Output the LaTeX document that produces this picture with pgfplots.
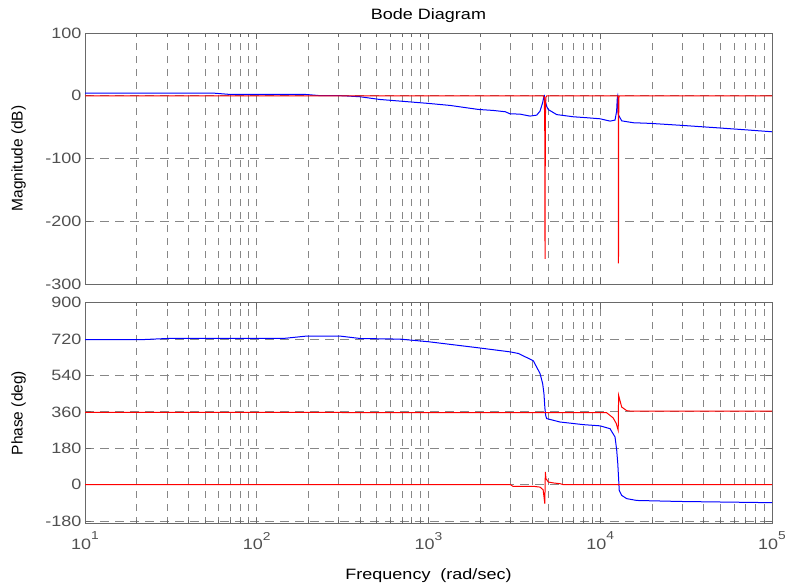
\documentclass[border=0pt]{standalone}
\usepackage{fontspec}
\setmainfont{Liberation Sans}
\newfontfamily\widefont{Liberation Sans}[FakeStretch=1.2]
\usepackage{pgfplots}
\usepackage{pgfplotstable}
\pgfplotsset{compat=1.18}
\definecolor{tickgray}{RGB}{80,80,80}
\definecolor{axgray}{RGB}{105,105,105}
\definecolor{gridgray}{RGB}{135,135,135}
\definecolor{mblue}{RGB}{0,0,255}
\definecolor{mred}{RGB}{255,0,0}
\newcommand\tenpow[1]{10\raisebox{9.5pt}{\fontsize{11.5}{12}\selectfont #1}}

\pgfplotstableread{
f v
10 4.3
50 4.3
56 4.2
70 2.1
150 2.1
195 2.0
233 0.2
318 0
400 -1.6
520 -5.9
682 -8.5
1000 -12.2
1334 -15.4
1950 -21.8
2380 -23.4
2800 -25.5
2980 -28.7
3410 -29.3
3900 -32.4
4265 -30.9
4460 -24.5
4620 -11
4700 -1
4730 0
4786 -8.5
4880 -17
4984 -22
5575 -30
6970 -33.5
8340 -35
9980 -36.7
11400 -40.4
12190 -38.8
12450 -25
12570 -3
12620 -1
12740 -30
13330 -40
15570 -43
19500 -44
29100 -47
47600 -51
74500 -54.8
100000 -57.4
}\magblue

\pgfplotstableread{
f v
10 0
4650 0
4720 -3
4750 -40
4770 -260
4790 -40
4820 -3
4880 0
12600 0
12700 -3
12740 -40
12770 -267
12800 -40
12840 -3
12920 0
100000 0
}\magred

\pgfplotstableread{
f v
10 717
21 717
30 723
142 723
195 735
305 735
400 723
682 720
1000 707
1950 677
2980 657
3335 649
4075 613
4460 550
4620 500
4700 451
4760 380
4810 343
4875 327
5830 310
7970 297
9980 291
11400 277
12190 236
12470 170
12650 104
12900 -28
13330 -53
14260 -69
16300 -78
29100 -83
100000 -89
}\phblue

\pgfplotstableread{
f v
10 0
3000 0
3100 -8
4075 -8
4460 -12
4650 -25
4755 -94
4790 63
4830 30
4984 13
5400 8
5830 5
6100 0
100000 0
}\phredA

\pgfplotstableread{
f v
10 358
10890 356
11900 330
12400 302
12720 269
12790 442
13330 384
14260 366
15000 364
100000 364
}\phredB

\pgfplotsset{bode/.style={
  scale only axis, width=687pt,
  xmin=10, xmax=100000,
  xtick={10,100,1000,10000,100000},
  axis line style={axgray, line width=0.9pt},
  tick align=inside, major tick length=6pt, minor tick length=3.5pt,
  tick style={axgray, line width=0.8pt},
  xmajorgrids, xminorgrids, ymajorgrids,
  major x grid style={gridgray, line width=0.8pt, dash pattern=on 7pt off 6pt},
  minor x grid style={gridgray, line width=0.8pt, dash pattern=on 7pt off 6pt},
  major y grid style={gridgray, line width=0.8pt, dash pattern=on 9pt off 6pt},
  /pgf/number format/assume math mode=true,
  ticklabel style={font=\widefont\fontsize{15}{18}\selectfont, text=tickgray},
  ylabel style={at={(axis description cs:-0.0968,0.5)}, anchor=center, font=\fontsize{15.5}{18}\selectfont},
  every axis plot/.append style={line width=1pt},
}}

\begin{document}
\begin{tikzpicture}
\useasboundingbox (0pt,0pt) rectangle (785pt,-587pt);
\begin{semilogxaxis}[bode,
  at={(85pt,-284pt)}, anchor=south west, height=251pt,
  ymin=-300, ymax=100, ytick={-300,-200,-100,0,100},
  xticklabels={},
  ylabel={Magnitude (dB)},
  title={Bode Diagram},
  title style={at={(axis description cs:0.5,1)}, anchor=base, yshift=8pt, font=\widefont\fontsize{15}{18}\selectfont},
]
\addplot[mblue] table[x=f,y=v] {\magblue};
\addplot[mred] table[x=f,y=v] {\magred};
\end{semilogxaxis}
\begin{semilogxaxis}[bode,
  at={(85pt,-523.5pt)}, anchor=south west, height=220.8pt,
  ymin=-192, ymax=900, ytick={-180,0,180,360,540,720,900},
  xticklabels={\tenpow{1},\tenpow{2},\tenpow{3},\tenpow{4},\tenpow{5}},
  xticklabel style={yshift=-5pt},
  ylabel={Phase (deg)},
  xlabel={Frequency\ \ (rad/sec)},
  xlabel style={at={(axis description cs:0.5,-0.2514)}, anchor=base, font=\widefont\fontsize{15}{18}\selectfont},
]
\addplot[mblue] table[x=f,y=v] {\phblue};
\addplot[mred] table[x=f,y=v] {\phredA};
\addplot[mred] table[x=f,y=v] {\phredB};
\end{semilogxaxis}
\end{tikzpicture}
\end{document}
